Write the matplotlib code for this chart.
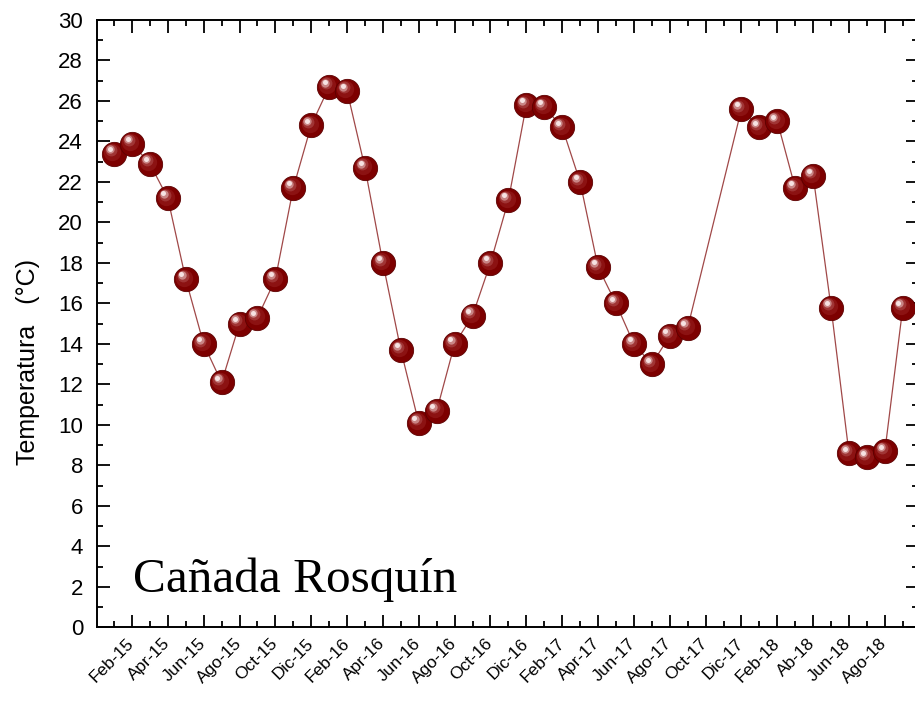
import matplotlib
matplotlib.use("Agg")
import matplotlib.pyplot as plt
from matplotlib.ticker import MultipleLocator, FixedLocator, FixedFormatter
from matplotlib.transforms import offset_copy, ScaledTranslation

# Monthly mean temperature, Cañada Rosquín (Oct and Nov 2017 missing)
fechas = [
    "2015-01", "2015-02", "2015-03", "2015-04", "2015-05", "2015-06",
    "2015-07", "2015-08", "2015-09", "2015-10", "2015-11", "2015-12",
    "2016-01", "2016-02", "2016-03", "2016-04", "2016-05", "2016-06",
    "2016-07", "2016-08", "2016-09", "2016-10", "2016-11", "2016-12",
    "2017-01", "2017-02", "2017-03", "2017-04", "2017-05", "2017-06",
    "2017-07", "2017-08", "2017-09",
    "2017-12", "2018-01", "2018-02", "2018-03", "2018-04", "2018-05",
    "2018-06", "2018-07", "2018-08", "2018-09",
]
temperatura = [
    23.4, 23.9, 22.9, 21.2, 17.2, 14.0,
    12.1, 15.0, 15.3, 17.2, 21.7, 24.8,
    26.7, 26.5, 22.7, 18.0, 13.7, 10.1,
    10.7, 14.0, 15.4, 18.0, 21.1, 25.8,
    25.7, 24.7, 22.0, 17.8, 16.0, 14.0,
    13.0, 14.4, 14.8,
    25.6, 24.7, 25.0, 21.7, 22.3, 15.8,
    8.6, 8.4, 8.7, 15.8,
]

# Labels for every second month, starting at Feb-15
etiquetas = [
    "Feb-15", "Apr-15", "Jun-15", "Ago-15", "Oct-15", "Dic-15",
    "Feb-16", "Apr-16", "Jun-16", "Ago-16", "Oct-16", "Dic-16",
    "Feb-17", "Apr-17", "Jun-17", "Ago-17", "Oct-17", "Dic-17",
    "Feb-18", "Ab-18", "Jun-18", "Ago-18",
]


def indice_mes(f):
    anio, mes = f.split("-")
    return (int(anio) - 2015) * 12 + int(mes) - 1


x = [indice_mes(f) for f in fechas]
pos_etiquetas = [1 + 2 * i for i in range(len(etiquetas))]

plt.rcParams["font.family"] = ["Liberation Sans", "DejaVu Sans"]

fig = plt.figure(figsize=(9.15, 7.06), dpi=100)
ax = fig.add_axes([0.106, 0.1112, 0.8973, 0.8605])

ax.plot(x, temperatura, color="#a04848", lw=0.9, zorder=1)

# Shaded spheres: a base disc plus progressively lighter offset discs
capas = [
    (17.5, "#7d0000", (0.0, 0.0), 1.0),
    (12.5, "#8c1212", (-1.2, 1.2), 1.0),
    (8.5, "#a33a3a", (-2.3, 2.5), 0.9),
    (6.0, "#cc8a8a", (-2.9, 3.1), 0.95),
    (3.6, "#f6e2e2", (-3.1, 3.4), 1.0),
]
z = 2
for xi, yi in zip(x, temperatura):
    for ms, col, (dx, dy), a in capas:
        tr = offset_copy(ax.transData, fig=fig, x=dx, y=dy, units="points")
        ax.plot([xi], [yi], "o", ms=ms, mfc=col, alpha=a,
                mec="#5c0000" if ms > 17 else "none",
                mew=0.6, transform=tr, zorder=z)
        z += 1

ax.set_xlim(-0.95, 44.85)
ax.set_ylim(0, 30)

ax.yaxis.set_major_locator(MultipleLocator(2))
ax.yaxis.set_minor_locator(MultipleLocator(1))
ax.xaxis.set_major_locator(FixedLocator(pos_etiquetas))
ax.xaxis.set_major_formatter(FixedFormatter(etiquetas))
ax.xaxis.set_minor_locator(FixedLocator([2 * i for i in range(23)]))

ax.tick_params(which="both", direction="in", top=True, right=True,
               width=1.3, color="black")
ax.tick_params(which="major", length=9)
ax.tick_params(which="minor", length=4.5)
ax.tick_params(axis="y", which="major", labelsize=16, pad=10)
ax.tick_params(axis="x", which="major", labelsize=12.5, pad=6)

# Rotated month labels, nudged slightly right of their ticks
desplazar = ScaledTranslation(5 / 100, 0, fig.dpi_scale_trans)
for lab in ax.get_xticklabels():
    lab.set_rotation(45)
    lab.set_ha("right")
    lab.set_va("top")
    lab.set_transform(lab.get_transform() + desplazar)

for s in ax.spines.values():
    s.set_linewidth(1.4)

ax.set_ylabel("Temperatura   (°C)", fontsize=18)
ax.yaxis.set_label_coords(-0.069, 0.437)

ax.text(0.044, 0.058, "Cañada Rosquín", transform=ax.transAxes,
        fontsize=35.5, va="baseline", ha="left",
        family=["Liberation Serif", "DejaVu Serif"])

fig.savefig("out.png", dpi=100)
